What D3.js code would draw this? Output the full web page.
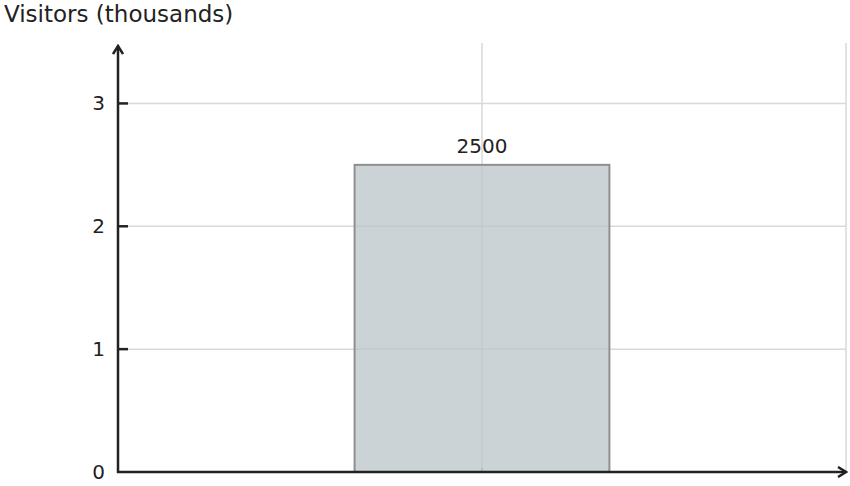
<!DOCTYPE html>
<html>
<head>
<meta charset="utf-8">
<script src="https://cdn.jsdelivr.net/npm/d3@7"></script>
<style>
  body { margin: 0; background: #fff; }
  text { font-family: "DejaVu Sans", sans-serif; fill: #222; }
</style>
</head>
<body>
<div id="chart"></div>
<script>
// data
let categories = ["Visitors"];
let visitors = [2500];
let y_ticks = [0, 1, 2, 3];
let y_title = "Visitors (thousands)";

let width = 850, height = 486;
let plot_left = 118, plot_right = 846, plot_bottom = 472, plot_top = 42;

let svg = d3.select("#chart").append("svg")
    .attr("width", width)
    .attr("height", height);

let x = d3.scaleLinear().domain([-1, 1]).range([plot_left, plot_right]);
let y = d3.scaleLinear().domain([0, 3.5]).range([plot_bottom, plot_top]);
let bar_w = 0.7;

// grid
svg.append("g").selectAll("line.h")
    .data(y_ticks.filter(d => d > 0))
    .enter().append("line")
    .attr("x1", plot_left + 10).attr("x2", plot_right)
    .attr("y1", d => y(d)).attr("y2", d => y(d))
    .attr("stroke", "#d9d9d9").attr("stroke-width", 1.5);

svg.append("g").selectAll("line.v")
    .data([0, 1])
    .enter().append("line")
    .attr("x1", d => x(d)).attr("x2", d => x(d))
    .attr("y1", y(3.5) + 1).attr("y2", plot_bottom)
    .attr("stroke", "#d9d9d9").attr("stroke-width", 1.5);

// small x tick
svg.append("line")
    .attr("x1", x(0)).attr("x2", x(0))
    .attr("y1", plot_bottom - 4).attr("y2", plot_bottom)
    .attr("stroke", "#999").attr("stroke-width", 1.5);

// bars
svg.append("g").selectAll("rect")
    .data(visitors)
    .enter().append("rect")
    .attr("x", (d, i) => x(i - bar_w / 2))
    .attr("width", (d, i) => x(i + bar_w / 2) - x(i - bar_w / 2))
    .attr("y", d => y(d / 1000))
    .attr("height", d => plot_bottom - y(d / 1000))
    .attr("fill", "#bbc4c8")
    .attr("fill-opacity", 0.75)
    .attr("stroke", "#8f8f8f")
    .attr("stroke-width", 2);

svg.append("g").selectAll("text")
    .data(visitors)
    .enter().append("text")
    .attr("x", (d, i) => x(i))
    .attr("y", d => y(d / 1000) - 12)
    .attr("text-anchor", "middle")
    .style("font-size", "20px")
    .text(d => d);

// arrows
let defs = svg.append("defs");
defs.append("marker")
    .attr("id", "arrow")
    .attr("viewBox", "0 0 12 12")
    .attr("refX", 10).attr("refY", 6)
    .attr("markerWidth", 12).attr("markerHeight", 12)
    .attr("markerUnits", "userSpaceOnUse")
    .attr("orient", "auto")
    .append("path")
    .attr("d", "M2,1 L10,6 L2,11")
    .attr("fill", "none")
    .attr("stroke", "#222")
    .attr("stroke-width", 2.5);

svg.append("line")
    .attr("x1", plot_left).attr("x2", plot_left)
    .attr("y1", plot_bottom + 1).attr("y2", 46)
    .attr("stroke", "#222").attr("stroke-width", 2.5)
    .attr("marker-end", "url(#arrow)");

svg.append("line")
    .attr("x1", plot_left - 1).attr("x2", plot_right)
    .attr("y1", plot_bottom).attr("y2", plot_bottom)
    .attr("stroke", "#222").attr("stroke-width", 2.5)
    .attr("marker-end", "url(#arrow)");

// y ticks
let yt = svg.append("g");
yt.selectAll("line")
    .data(y_ticks.filter(d => d > 0))
    .enter().append("line")
    .attr("x1", plot_left).attr("x2", plot_left + 10)
    .attr("y1", d => y(d)).attr("y2", d => y(d))
    .attr("stroke", "#222").attr("stroke-width", 2.5);
yt.selectAll("text")
    .data(y_ticks)
    .enter().append("text")
    .attr("x", plot_left - 13)
    .attr("y", d => y(d))
    .attr("dy", "0.35em")
    .attr("text-anchor", "end")
    .style("font-size", "20px")
    .text(d => d);

svg.append("text")
    .attr("x", 4).attr("y", 22)
    .style("font-size", "23px")
    .text(y_title);
</script>
</body>
</html>
